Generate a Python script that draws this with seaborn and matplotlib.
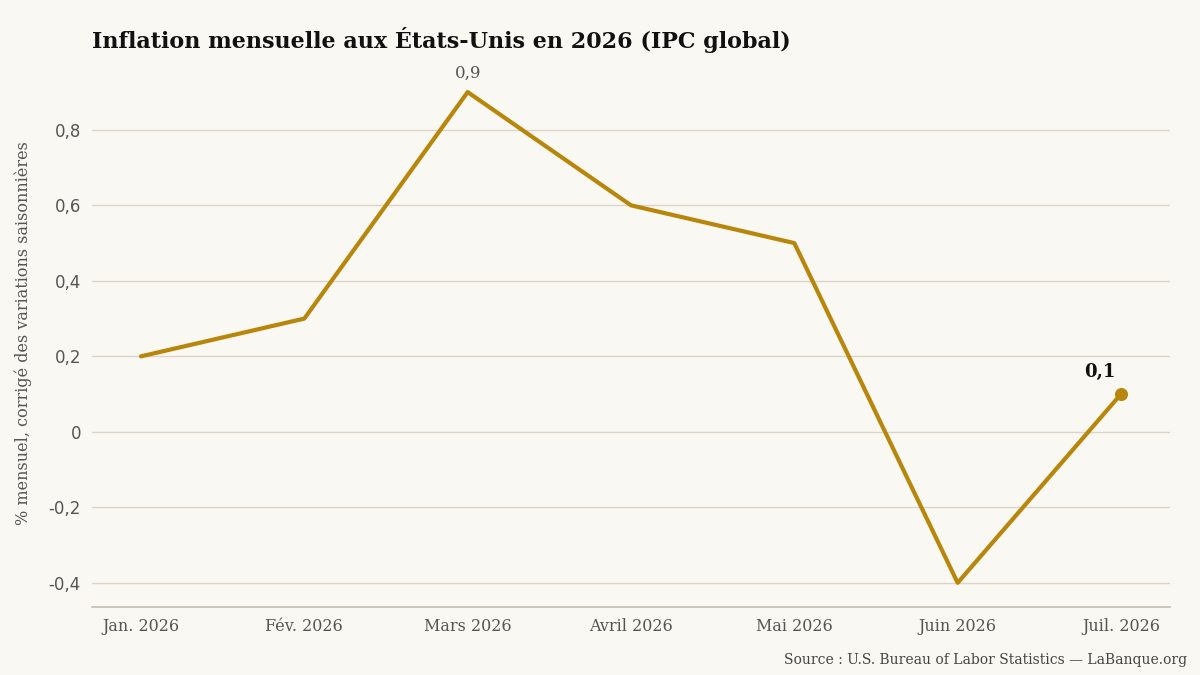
import matplotlib
matplotlib.use("Agg")
import matplotlib.pyplot as plt
import seaborn as sns
import pandas as pd

months = ["Jan. 2026", "Fév. 2026", "Mars 2026", "Avril 2026", "Mai 2026", "Juin 2026", "Juil. 2026"]
cpi = [0.2, 0.3, 0.9, 0.6, 0.5, -0.4, 0.1]
yticks = [-0.4, -0.2, 0, 0.2, 0.4, 0.6, 0.8]

bg = "#faf8f3"
gold = "#b8860b"

sns.set_theme(style="white")
plt.rcParams["font.family"] = ["DejaVu Sans"]

df = pd.DataFrame({"x": range(len(months)), "v": cpi})

fig = plt.figure(figsize=(12, 6.75), dpi=100, facecolor=bg)
ax = fig.add_axes([92 / 1200, 1 - 607 / 675, (1170 - 92) / 1200, (607 - 60) / 675])
ax.set_facecolor(bg)

sns.lineplot(data=df, x="x", y="v", ax=ax, color=gold, linewidth=3)
ax.scatter([df.x.iloc[-1]], [df.v.iloc[-1]], color=gold, s=70, zorder=5)

ax.set_xlim(-0.3, len(months) - 0.7)
ax.set_ylim(-0.464, 0.985)
ax.set_yticks(yticks)
ax.set_yticklabels([("0" if t == 0 else f"{t:.1f}".replace(".", ",")) for t in yticks],
                   fontsize=12, color="#555555")
ax.set_xticks(range(len(months)))
ax.set_xticklabels(months, fontsize=11.5, color="#555555", family="DejaVu Serif")
ax.tick_params(axis="both", length=0, pad=8)
for t in yticks:
    ax.axhline(t, color="#ddd3c6", linewidth=1, zorder=0)
for s in ["top", "right", "left"]:
    ax.spines[s].set_visible(False)
ax.spines["bottom"].set_color("#c8c0b4")
ax.set_xlabel("")
ax.set_ylabel("% mensuel, corrigé des variations saisonnières", fontsize=11.5,
              color="#555555", family="DejaVu Serif", labelpad=12)

ax.annotate("0,9", (2, 0.9), xytext=(0, 10), textcoords="offset points",
            ha="center", fontsize=12, color="#555555", family="DejaVu Serif")
ax.annotate("0,1", (6, 0.1), xytext=(-15, 12), textcoords="offset points",
            ha="center", fontsize=13, fontweight="bold", color="#111111", family="DejaVu Serif")

fig.text(92 / 1200, 1 - 40 / 675, "Inflation mensuelle aux États-Unis en 2026 (IPC global)",
         fontsize=16, fontweight="bold", family="DejaVu Serif", color="#111111", va="center")
fig.text(1187 / 1200, 1 - 660 / 675, "Source : U.S. Bureau of Labor Statistics — LaBanque.org",
         fontsize=10, family="DejaVu Serif", color="#444444", ha="right", va="center")

fig.savefig("out.png", dpi=100, facecolor=bg)
